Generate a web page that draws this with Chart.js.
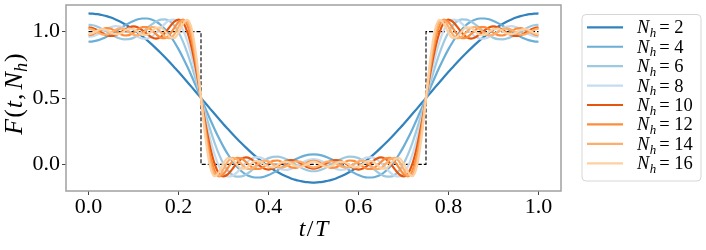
<!DOCTYPE html>
<html>
<head>
<meta charset="utf-8">
<script src="https://cdn.jsdelivr.net/npm/chart.js@4.4.1/dist/chart.umd.min.js"></script>
<style>
html,body{margin:0;padding:0;background:#fff;}
#wrap{position:relative;width:706px;height:250px;}
</style>
</head>
<body>
<div id="wrap"><canvas id="c" width="706" height="250"></canvas></div>
<script>
// time axis t/T (0 .. 1, step 0.01)
const tValues = [];
for (let i = 0; i <= 100; i++) tValues.push(i / 100);

const xTicks = [0, 0.2, 0.4, 0.6, 0.8, 1.0];
const yTicks = [0, 0.5, 1.0];

const harmonics = [2, 4, 6, 8, 10, 12, 14, 16];
const colors = ['#3182bd', '#6baed6', '#9ecae1', '#c6dbef', '#e6550d', '#fd8d3c', '#fdae6b', '#fdd0a2'];

// ideal square wave
const squareT = [0, 0.25, 0.25, 0.75, 0.75, 1.0];
const squareF = [1, 1, 0, 0, 1, 1];

const F2 = [1.137,1.135,1.132,1.125,1.117,1.106,1.092,1.076,1.058,1.038,1.015,0.991,0.964,0.936,0.906,0.874,0.841,0.807,0.771,0.734,0.697,0.658,0.619,0.580,0.540,0.500,
0.460,0.420,0.381,0.342,0.303,0.266,0.229,0.193,0.159,0.126,0.094,0.064,0.036,0.009,-0.015,-0.038,-0.058,-0.076,-0.092,-0.106,-0.117,-0.125,-0.132,-0.135,-0.137,
-0.135,-0.132,-0.125,-0.117,-0.106,-0.092,-0.076,-0.058,-0.038,-0.015,0.009,0.036,0.064,0.094,0.126,0.159,0.193,0.229,0.266,0.303,0.342,0.381,0.420,0.460,0.500,
0.540,0.580,0.619,0.658,0.697,0.734,0.771,0.807,0.841,0.874,0.906,0.936,0.964,0.991,1.015,1.038,1.058,1.076,1.092,1.106,1.117,1.125,1.132,1.135,1.137];

const F4 = [0.924,0.927,0.934,0.946,0.962,0.981,1.002,1.023,1.045,1.064,1.081,1.093,1.099,1.099,1.092,1.076,1.052,1.019,0.977,0.926,0.868,0.804,0.733,0.658,0.580,0.500,
0.420,0.342,0.267,0.196,0.132,0.074,0.023,-0.019,-0.052,-0.076,-0.092,-0.099,-0.099,-0.093,-0.081,-0.064,-0.045,-0.023,-0.002,0.019,0.038,0.054,0.066,0.073,0.076,
0.073,0.066,0.054,0.038,0.019,-0.002,-0.023,-0.045,-0.064,-0.081,-0.093,-0.099,-0.099,-0.092,-0.076,-0.052,-0.019,0.023,0.074,0.132,0.196,0.267,0.342,0.420,0.500,
0.580,0.658,0.733,0.804,0.868,0.926,0.977,1.019,1.052,1.076,1.092,1.099,1.099,1.093,1.081,1.064,1.045,1.023,1.002,0.981,0.962,0.946,0.934,0.927,0.924];

const F6 = [1.052,1.048,1.037,1.021,1.001,0.981,0.962,0.948,0.942,0.943,0.953,0.972,0.996,1.025,1.052,1.076,1.091,1.093,1.080,1.048,0.996,0.925,0.836,0.733,0.619,0.500,
0.381,0.267,0.164,0.075,0.004,-0.048,-0.080,-0.093,-0.091,-0.076,-0.052,-0.025,0.004,0.028,0.047,0.057,0.058,0.052,0.038,0.019,-0.001,-0.021,-0.037,-0.048,-0.052,
-0.048,-0.037,-0.021,-0.001,0.019,0.038,0.052,0.058,0.057,0.047,0.028,0.004,-0.025,-0.052,-0.076,-0.091,-0.093,-0.080,-0.048,0.004,0.075,0.164,0.267,0.381,0.500,
0.619,0.733,0.836,0.925,0.996,1.048,1.080,1.093,1.091,1.076,1.052,1.025,0.996,0.972,0.953,0.943,0.942,0.948,0.962,0.981,1.001,1.021,1.037,1.048,1.052];

const F8 = [0.961,0.966,0.979,0.998,1.018,1.034,1.042,1.039,1.026,1.005,0.981,0.960,0.948,0.948,0.962,0.990,1.025,1.060,1.085,1.091,1.069,1.014,0.924,0.803,0.658,0.500,
0.342,0.197,0.076,-0.014,-0.069,-0.091,-0.085,-0.060,-0.025,0.010,0.038,0.052,0.052,0.040,0.019,-0.005,-0.026,-0.039,-0.042,-0.034,-0.018,0.002,0.021,0.034,0.039,
0.034,0.021,0.002,-0.018,-0.034,-0.042,-0.039,-0.026,-0.005,0.019,0.040,0.052,0.052,0.038,0.010,-0.025,-0.060,-0.085,-0.091,-0.069,-0.014,0.076,0.197,0.342,0.500,
0.658,0.803,0.924,1.014,1.069,1.091,1.085,1.060,1.025,0.990,0.962,0.948,0.948,0.960,0.981,1.005,1.026,1.039,1.042,1.034,1.018,0.998,0.979,0.966,0.961];

const F10 = [1.032,1.025,1.010,0.990,0.973,0.967,0.973,0.991,1.013,1.031,1.039,1.031,1.010,0.982,0.958,0.948,0.959,0.990,1.034,1.074,1.091,1.069,0.994,0.867,0.696,0.500,
0.304,0.133,0.006,-0.069,-0.091,-0.074,-0.034,0.010,0.041,0.052,0.042,0.018,-0.010,-0.031,-0.039,-0.031,-0.013,0.009,0.027,0.033,0.027,0.011,-0.010,-0.025,-0.032,
-0.025,-0.010,0.011,0.027,0.033,0.027,0.009,-0.013,-0.031,-0.039,-0.031,-0.010,0.018,0.042,0.052,0.041,0.010,-0.034,-0.074,-0.091,-0.069,0.006,0.133,0.304,0.500,
0.696,0.867,0.994,1.069,1.091,1.074,1.034,0.990,0.959,0.948,0.958,0.982,1.010,1.031,1.039,1.031,1.013,0.991,0.973,0.967,0.973,0.990,1.010,1.025,1.032];

const F12 = [0.974,0.981,0.999,1.017,1.027,1.022,1.004,0.984,0.971,0.974,0.992,1.017,1.034,1.034,1.014,0.982,0.955,0.951,0.976,1.025,1.073,1.090,1.045,0.924,0.733,0.500,
0.267,0.076,-0.045,-0.090,-0.073,-0.025,0.024,0.049,0.045,0.018,-0.014,-0.034,-0.034,-0.017,0.008,0.026,0.029,0.017,-0.004,-0.022,-0.027,-0.017,0.001,0.019,0.026,
0.019,0.001,-0.017,-0.027,-0.022,-0.004,0.017,0.029,0.026,0.008,-0.017,-0.034,-0.034,-0.014,0.018,0.045,0.049,0.024,-0.025,-0.073,-0.090,-0.045,0.076,0.267,0.500,
0.733,0.924,1.045,1.090,1.073,1.025,0.976,0.951,0.955,0.982,1.014,1.034,1.034,1.017,0.992,0.974,0.971,0.984,1.004,1.022,1.027,1.017,0.999,0.981,0.974];

const F14 = [1.023,1.014,0.996,0.980,0.978,0.993,1.014,1.025,1.018,0.997,0.977,0.972,0.989,1.016,1.035,1.029,0.998,0.963,0.950,0.977,1.034,1.084,1.076,0.973,0.768,0.500,
0.232,0.027,-0.076,-0.084,-0.034,0.023,0.050,0.037,0.002,-0.029,-0.035,-0.016,0.011,0.028,0.023,0.003,-0.018,-0.025,-0.014,0.007,0.022,0.020,0.005,-0.014,-0.023,
-0.014,0.005,0.020,0.022,0.007,-0.014,-0.025,-0.018,0.003,0.023,0.028,0.011,-0.016,-0.035,-0.029,0.002,0.037,0.050,0.023,-0.034,-0.084,-0.076,0.027,0.232,0.500,
0.768,0.973,1.076,1.084,1.034,0.977,0.950,0.963,0.998,1.029,1.035,1.016,0.989,0.972,0.977,0.997,1.018,1.025,1.014,0.993,0.978,0.980,0.996,1.014,1.023];

const F16 = [0.980,0.989,1.009,1.020,1.013,0.993,0.979,0.985,1.005,1.022,1.019,0.997,0.976,0.976,1.000,1.029,1.033,1.003,0.963,0.952,0.991,1.059,1.089,1.013,0.803,0.500,
0.197,-0.013,-0.089,-0.059,0.009,0.048,0.037,-0.003,-0.033,-0.029,0.000,0.024,0.024,0.003,-0.019,-0.022,-0.005,0.016,0.021,0.007,-0.013,-0.020,-0.009,0.011,0.020,
0.011,-0.009,-0.020,-0.013,0.007,0.021,0.016,-0.005,-0.022,-0.019,0.003,0.024,0.024,0.000,-0.029,-0.033,-0.003,0.037,0.048,0.009,-0.059,-0.089,-0.013,0.197,0.500,
0.803,1.013,1.089,1.059,0.991,0.952,0.963,1.003,1.033,1.029,1.000,0.976,0.976,0.997,1.019,1.022,1.005,0.985,0.979,0.993,1.013,1.020,1.009,0.989,0.980];

const series = [F2, F4, F6, F8, F10, F12, F14, F16];

const SERIF = '"Liberation Serif", "DejaVu Serif", serif';

// ---- rich text helper (italic / subscript pieces) ----
function richWidth(ctx, parts, size) {
  let w = 0;
  for (const p of parts) {
    const s = p.sub ? size * 0.7 : size;
    ctx.font = (p.i ? 'italic ' : '') + s + 'px ' + SERIF;
    w += ctx.measureText(p.t).width + (p.gap || 0);
  }
  return w;
}
function drawRich(ctx, parts, x, y, size, align) {
  let w = richWidth(ctx, parts, size);
  let cx = align === 'center' ? x - w / 2 : x;
  ctx.textBaseline = 'alphabetic';
  ctx.textAlign = 'left';
  for (const p of parts) {
    const s = p.sub ? size * 0.7 : size;
    ctx.font = (p.i ? 'italic ' : '') + s + 'px ' + SERIF;
    ctx.fillText(p.t, cx, y + (p.sub ? size * 0.2 : 0));
    cx += ctx.measureText(p.t).width + (p.gap || 0);
  }
}

const decorPlugin = {
  id: 'decor',
  afterDraw(chart) {
    const ctx = chart.ctx;
    const a = chart.chartArea;
    ctx.save();
    // frame
    ctx.strokeStyle = '#a0a0a0';
    ctx.lineWidth = 1.5;
    ctx.strokeRect(a.left, a.top, a.right - a.left, a.bottom - a.top);
    ctx.fillStyle = '#000';
    // x title
    drawRich(ctx, [{t:'t', i:true, gap:1.5}, {t:'/', i:false, gap:1.5}, {t:'T', i:true}], (a.left + a.right) / 2, 235.5, 24, 'center');
    // y title
    ctx.save();
    ctx.translate(22, 94);
    ctx.rotate(-Math.PI / 2);
    drawRich(ctx, [{t:'F', i:true, gap:1}, {t:'(', i:false, gap:1}, {t:'t', i:true, gap:1}, {t:',', i:false, gap:4}, {t:'N', i:true}, {t:'h', i:true, sub:true, gap:1}, {t:')', i:false}], 0, 0, 26, 'center');
    ctx.restore();
    // legend
    const lx = 582, ly = 14.5, lw = 119, lh = 166.5, r = 4;
    ctx.beginPath();
    ctx.moveTo(lx + r, ly);
    ctx.arcTo(lx + lw, ly, lx + lw, ly + lh, r);
    ctx.arcTo(lx + lw, ly + lh, lx, ly + lh, r);
    ctx.arcTo(lx, ly + lh, lx, ly, r);
    ctx.arcTo(lx, ly, lx + lw, ly, r);
    ctx.closePath();
    ctx.fillStyle = 'rgba(255,255,255,0.8)';
    ctx.fill();
    ctx.strokeStyle = '#d6d6d6';
    ctx.lineWidth = 1;
    ctx.stroke();
    harmonics.forEach((n, i) => {
      const yy = 27.3 + i * 19.43;
      ctx.strokeStyle = colors[i];
      ctx.lineWidth = 2.2;
      ctx.beginPath();
      ctx.moveTo(587, yy);
      ctx.lineTo(623, yy);
      ctx.stroke();
      ctx.fillStyle = '#000';
      drawRich(ctx, [{t:'N', i:true, gap:0.5}, {t:'h', i:true, sub:true, gap:3}, {t:'= ' + n, i:false}], 637, yy + 6, 18.5, 'left');
    });
    ctx.restore();
  }
};

const datasets = series.map((arr, i) => ({
  label: 'N_h = ' + harmonics[i],
  data: tValues.map((t, j) => ({x: t, y: arr[j]})),
  borderColor: colors[i],
  borderWidth: 2.2,
  pointRadius: 0,
  fill: false,
  cubicInterpolationMode: 'monotone',
  order: series.length - i
}));
datasets.push({
  label: 'square',
  data: squareT.map((t, j) => ({x: t, y: squareF[j]})),
  borderColor: '#000',
  borderWidth: 1.1,
  borderDash: [4, 2],
  pointRadius: 0,
  fill: false,
  tension: 0,
  order: 20
});

new Chart(document.getElementById('c'), {
  type: 'line',
  data: { datasets },
  options: {
    responsive: false,
    animation: false,
    devicePixelRatio: 1,
    layout: { padding: { top: 5, right: 145, left: 0, bottom: 0 } },
    plugins: { legend: { display: false }, tooltip: { enabled: false } },
    scales: {
      x: {
        type: 'linear', min: -0.05, max: 1.05,
        afterBuildTicks: s => { s.ticks = xTicks.map(v => ({value: v})); },
        afterFit: s => { s.height = 59; s.paddingLeft = 0; s.paddingRight = 0; },
        ticks: { color: '#000', font: { family: SERIF, size: 22 }, padding: -1, maxRotation: 0, autoSkip: false,
                 callback: v => Number(v).toFixed(1) },
        grid: { drawOnChartArea: false, drawTicks: true, tickLength: 4, color: '#444', tickWidth: 1 },
        border: { display: false }
      },
      y: {
        type: 'linear', min: -0.2007, max: 1.2007,
        afterBuildTicks: s => { s.ticks = yTicks.map(v => ({value: v})); },
        afterFit: s => { s.width = 66; s.paddingTop = 0; s.paddingBottom = 0; },
        ticks: { color: '#000', font: { family: SERIF, size: 22 }, padding: 2, autoSkip: false,
                 callback: v => Number(v).toFixed(1) },
        grid: { drawOnChartArea: false, drawTicks: true, tickLength: 4, color: '#444', tickWidth: 1 },
        border: { display: false }
      }
    }
  },
  plugins: [decorPlugin]
});
</script>
</body>
</html>
